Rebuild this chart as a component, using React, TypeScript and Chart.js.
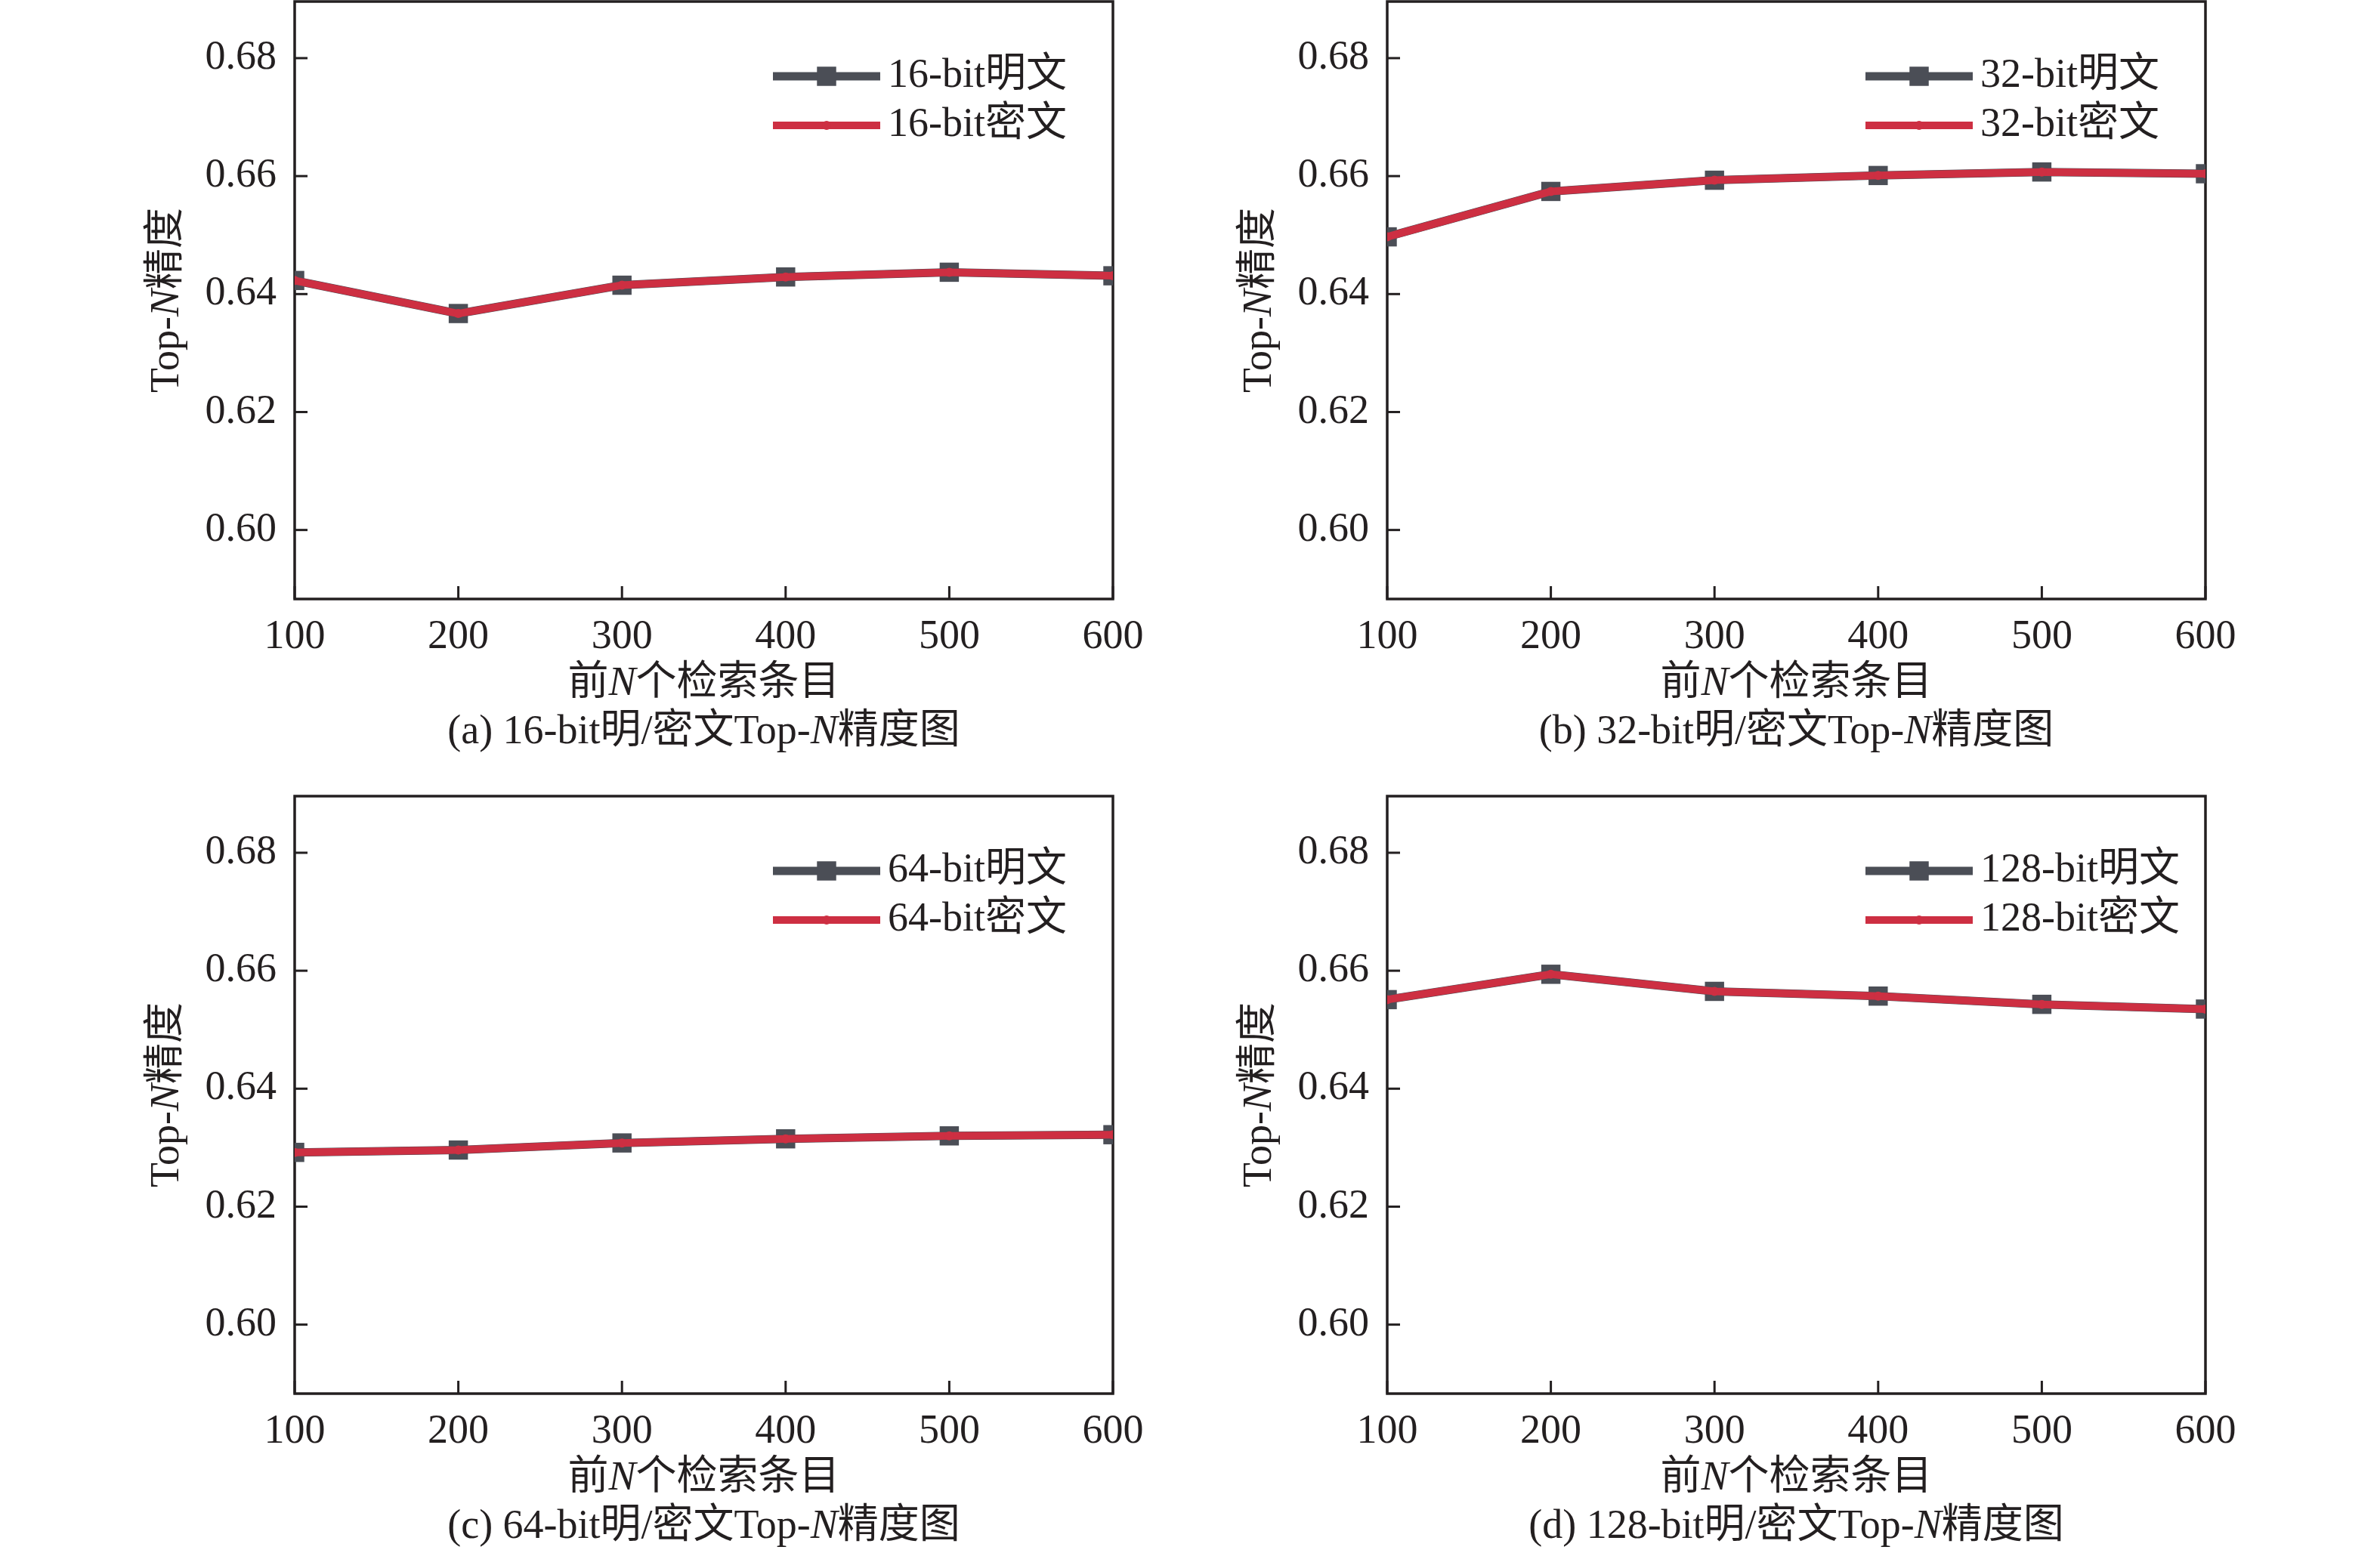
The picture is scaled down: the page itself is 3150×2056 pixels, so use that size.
import { Chart, registerables } from "chart.js"
import React, { useEffect, useRef } from "react"

Chart.register(...registerables)

// x categories (前N个检索条目) and y tick values
const topN = ["100", "200", "300", "400", "500", "600"]
const yTicks = [0.6, 0.62, 0.64, 0.66, 0.68]
const yMin = 0.5883
const yMax = 0.6896

// Top-N precision, plaintext (明文) vs ciphertext (密文)
const plain16 = [0.6423, 0.6367, 0.6415, 0.6429, 0.6437, 0.6431]
const cipher16 = [0.6423, 0.6367, 0.6415, 0.6429, 0.6437, 0.6431]
const plain32 = [0.6497, 0.6574, 0.6593, 0.6601, 0.6607, 0.6604]
const cipher32 = [0.6497, 0.6574, 0.6593, 0.6601, 0.6607, 0.6604]
const plain64 = [0.6292, 0.6296, 0.6308, 0.6315, 0.632, 0.6322]
const cipher64 = [0.6292, 0.6296, 0.6308, 0.6315, 0.632, 0.6322]
const plain128 = [0.6551, 0.6594, 0.6565, 0.6557, 0.6543, 0.6535]
const cipher128 = [0.6551, 0.6594, 0.6565, 0.6557, 0.6543, 0.6535]

const bitSizes = ["16", "32", "64", "128"]
const tags = ["(a)", "(b)", "(c)", "(d)"]

const FONT = '"Liberation Serif", "Noto Sans CJK SC", serif'
const FS = 54
const INK = "#231f20"
const GRAY = "#4b4e56"
const RED = "#cd2f42"

// canvas geometry
const W = 1560
const H = 1000
const PLOT_LEFT = 390
const PLOT_TOP = 2
const PLOT_RIGHT = 1473
const PLOT_BOTTOM = 793

type Seg = { text: string; italic?: boolean }

const drawRich = (ctx: CanvasRenderingContext2D, segs: Seg[], cx: number, cy: number) => {
  const fonts = segs.map((s) => `${s.italic ? "italic " : ""}${FS}px ${FONT}`)
  const widths = segs.map((s, i) => {
    ctx.font = fonts[i]
    return ctx.measureText(s.text).width
  })
  const total = widths.reduce((a, b) => a + b, 0)
  let x = cx - total / 2
  ctx.textAlign = "left"
  ctx.textBaseline = "middle"
  ctx.fillStyle = INK
  segs.forEach((s, i) => {
    ctx.font = fonts[i]
    ctx.fillText(s.text, x, cy)
    x += widths[i]
  })
}

const framePlugin = {
  id: "frame",
  beforeDatasetsDraw(chart: any) {
    const { ctx, chartArea } = chart
    const { left, top, right, bottom } = chartArea
    ctx.save()
    ctx.strokeStyle = INK
    ctx.lineWidth = 3.5
    ctx.strokeRect(left, top, right - left, bottom - top)
    ctx.lineWidth = 3
    const xs = chart.scales.x
    xs.ticks.forEach((_t: any, i: number) => {
      const px = xs.getPixelForTick(i)
      ctx.beginPath()
      ctx.moveTo(px, bottom)
      ctx.lineTo(px, bottom - 17)
      ctx.stroke()
    })
    const ys = chart.scales.y
    ys.ticks.forEach((t: any) => {
      const py = ys.getPixelForValue(t.value)
      ctx.beginPath()
      ctx.moveTo(left, py)
      ctx.lineTo(left + 17, py)
      ctx.stroke()
    })
    ctx.restore()
  },
  afterDraw(chart: any, _args: any, opts: any) {
    const { ctx, chartArea } = chart
    const { left, top, right, bottom } = chartArea
    const cx = (left + right) / 2
    ctx.save()

    // legend: line + marker + label
    chart.data.datasets.forEach((ds: any, i: number) => {
      const y = top + 99 + i * 65
      const x0 = left + 633
      const x1 = x0 + 142
      ctx.strokeStyle = ds.borderColor
      ctx.lineWidth = ds.borderWidth
      ctx.beginPath()
      ctx.moveTo(x0, y)
      ctx.lineTo(x1, y)
      ctx.stroke()
      ctx.fillStyle = ds.pointBackgroundColor
      const mx = (x0 + x1) / 2
      if (ds.pointStyle === "rect") {
        const s = ds.pointRadius * Math.SQRT1_2
        ctx.fillRect(mx - s, y - s, 2 * s, 2 * s)
      } else {
        ctx.beginPath()
        ctx.arc(mx, y, ds.pointRadius, 0, Math.PI * 2)
        ctx.fill()
      }
      ctx.fillStyle = INK
      ctx.font = `${FS}px ${FONT}`
      ctx.textAlign = "left"
      ctx.textBaseline = "middle"
      ctx.fillText(ds.label, x1 + 10, y)
    })

    // y title
    ctx.save()
    ctx.translate(left - 168, (top + bottom) / 2)
    ctx.rotate(-Math.PI / 2)
    drawRich(ctx, [{ text: "Top-" }, { text: "N", italic: true }, { text: "精度" }], 0, 0)
    ctx.restore()

    // x title and caption
    drawRich(ctx, [{ text: "前" }, { text: "N", italic: true }, { text: "个检索条目" }], cx, bottom + 113)
    drawRich(
      ctx,
      [{ text: `${opts.tag} ${opts.bits}-bit明/密文Top-` }, { text: "N", italic: true }, { text: "精度图" }],
      cx,
      bottom + 177
    )
    ctx.restore()
  },
}

const Panel: React.FC<{ idx: number; plain: number[]; cipher: number[]; left: number; top: number }> = ({
  idx,
  plain,
  cipher,
  left,
  top,
}) => {
  const chartRef = useRef<HTMLCanvasElement>(null)

  useEffect(() => {
    const ctx = chartRef.current?.getContext("2d")
    if (!ctx) return
    const bits = bitSizes[idx]
    const tickFont = { family: FONT, size: FS }
    const chart = new Chart(ctx, {
      type: "line",
      data: {
        labels: topN,
        datasets: [
          {
            label: `${bits}-bit明文`,
            data: plain,
            borderColor: GRAY,
            borderWidth: 11,
            pointStyle: "rect",
            pointRadius: 18,
            pointBackgroundColor: GRAY,
            pointBorderWidth: 0,
            tension: 0,
            clip: 0,
            order: 1,
          },
          {
            label: `${bits}-bit密文`,
            data: cipher,
            borderColor: RED,
            borderWidth: 10,
            pointStyle: "circle",
            pointRadius: 6,
            pointBackgroundColor: RED,
            pointBorderWidth: 0,
            tension: 0,
            clip: 0,
            order: 0,
          },
        ],
      },
      options: {
        animation: false,
        responsive: false,
        devicePixelRatio: 1,
        layout: {
          autoPadding: false,
          padding: { left: 0, top: PLOT_TOP, right: W - PLOT_RIGHT, bottom: 0 },
        },
        plugins: {
          legend: { display: false },
          tooltip: { enabled: false },
          frame: { tag: tags[idx], bits },
        } as any,
        scales: {
          x: {
            type: "category",
            offset: false,
            grid: { display: false, drawTicks: false },
            border: { display: false },
            ticks: { font: tickFont, color: INK, padding: 18, maxRotation: 0, autoSkip: false },
            afterFit: (s: any) => {
              s.height = H - PLOT_BOTTOM
              s.paddingLeft = 0
              s.paddingRight = 0
            },
          },
          y: {
            min: yMin,
            max: yMax,
            grid: { display: false, drawTicks: false },
            border: { display: false },
            ticks: {
              font: tickFont,
              color: INK,
              padding: 24,
              callback: (v: any) => Number(v).toFixed(2),
            },
            afterBuildTicks: (s: any) => {
              s.ticks = yTicks.map((v) => ({ value: v }))
            },
            afterFit: (s: any) => {
              s.width = PLOT_LEFT
              s.paddingTop = 0
              s.paddingBottom = 0
            },
          },
        },
      },
      plugins: [framePlugin],
    })
    return () => {
      chart.destroy()
    }
  }, [idx, plain, cipher])

  return (
    <canvas
      ref={chartRef}
      width={W}
      height={H}
      style={{ position: "absolute", left, top, width: W, height: H }}
    />
  )
}

const App: React.FC = () => {
  return (
    <div>
      <Panel idx={0} plain={plain16} cipher={cipher16} left={0} top={0} />
      <Panel idx={1} plain={plain32} cipher={cipher32} left={1446} top={0} />
      <Panel idx={2} plain={plain64} cipher={cipher64} left={0} top={1052} />
      <Panel idx={3} plain={plain128} cipher={cipher128} left={1446} top={1052} />
    </div>
  )
}

export default App
